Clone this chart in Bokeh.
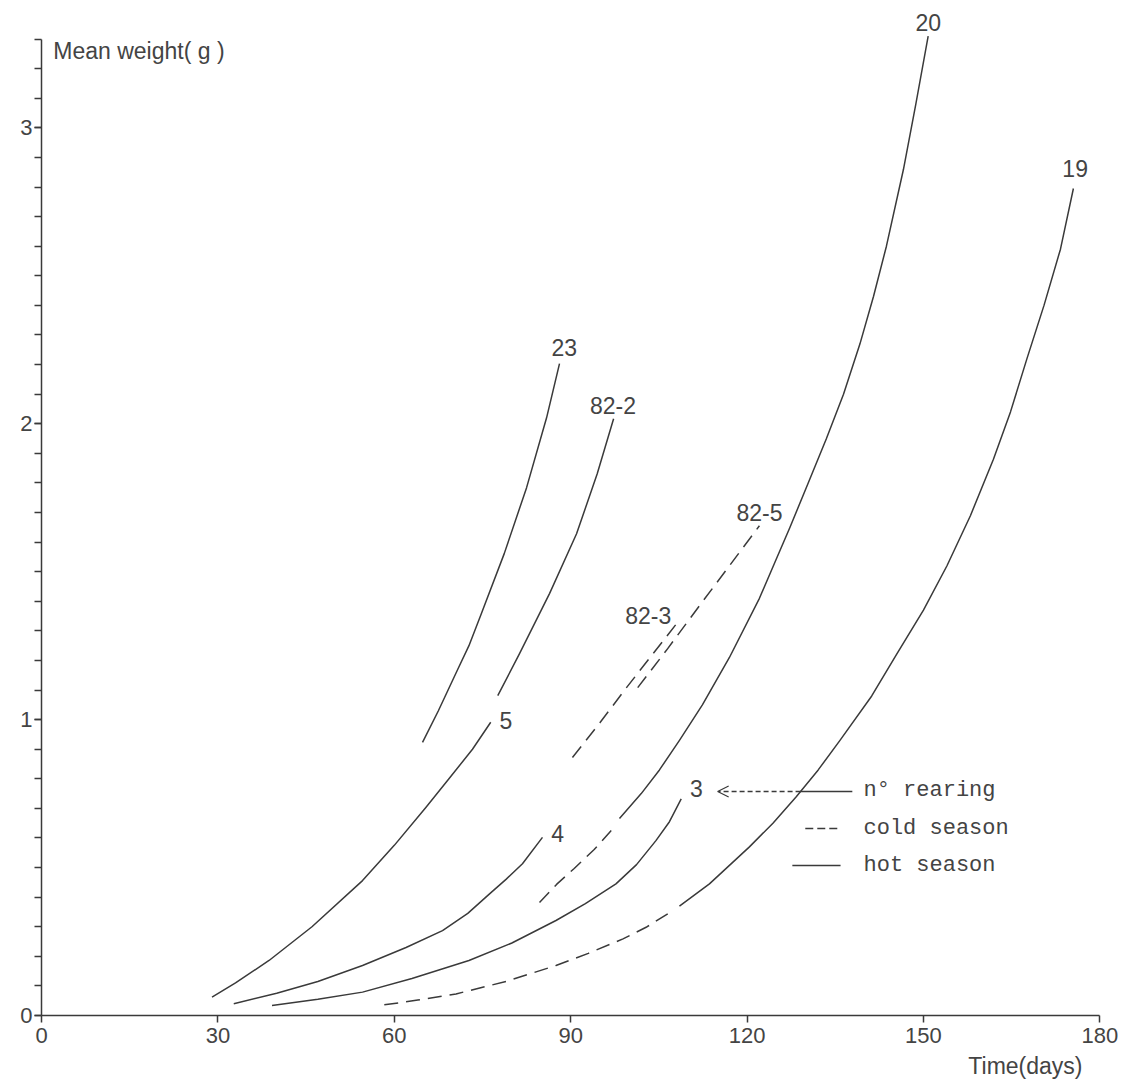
from bokeh.plotting import figure
from bokeh.models import Range1d, FixedTicker, Label, Arrow, OpenHead, Title
from bokeh.embed import file_html
from bokeh.resources import INLINE

# ---- data (days, mean weight g) ----
r23_days = [64.8, 67.5, 70.7, 72.7, 74.8, 78.7, 82.5, 85.9, 88.1]
r23_w = [0.923, 1.03, 1.166, 1.25, 1.358, 1.561, 1.784, 2.02, 2.203]

r822_days = [77.6, 81.3, 86.4, 91.0, 94.5, 97.3]
r822_w = [1.081, 1.223, 1.426, 1.628, 1.83, 2.017]

r5_days = [29.0, 33.0, 38.7, 46.0, 54.6, 60.0, 65.4, 69.5, 73.3, 76.4]
r5_w = [0.062, 0.11, 0.186, 0.30, 0.456, 0.575, 0.704, 0.805, 0.90, 0.991]

r4_days = [32.7, 40.0, 47.0, 54.6, 62.0, 68.2, 72.5, 76.2, 79.0, 81.8, 85.2]
r4_w = [0.040, 0.075, 0.115, 0.169, 0.23, 0.287, 0.345, 0.411, 0.46, 0.513, 0.602]

r3_days = [39.2, 47.0, 54.6, 63.0, 72.7, 80.0, 87.5, 92.5, 97.7, 101.2, 104.5, 106.8, 108.8]
r3_w = [0.034, 0.055, 0.079, 0.125, 0.186, 0.245, 0.321, 0.378, 0.445, 0.51, 0.591, 0.655, 0.732]

r823_days = [90.3, 95.0, 99.1, 103.5, 108.0]
r823_w = [0.872, 0.99, 1.098, 1.21, 1.324]

r825_days = [101.4, 106.5, 111.9, 117.0, 122.1]
r825_w = [1.108, 1.24, 1.385, 1.52, 1.655]

r20_cold_days = [84.7, 87.6, 90.6, 94.0, 96.9]
r20_cold_w = [0.382, 0.443, 0.497, 0.561, 0.625]
r20_hot_days = [98.3, 102.0, 105.1, 108.5, 112.4, 117.0, 122.1, 124.7, 127.3, 130.4, 133.5,
                136.4, 139.2, 141.5, 143.7, 146.6, 148.7, 150.8]
r20_hot_w = [0.666, 0.75, 0.83, 0.93, 1.05, 1.21, 1.41, 1.53, 1.65, 1.80, 1.95,
             2.10, 2.27, 2.43, 2.60, 2.86, 3.08, 3.31]

r19_cold_days = [58.3, 64.0, 70.5, 79.0, 87.5, 93.0, 98.9, 103.0, 107.4]
r19_cold_w = [0.036, 0.052, 0.073, 0.115, 0.169, 0.21, 0.259, 0.30, 0.355]
r19_hot_days = [108.5, 113.6, 120.4, 124.4, 128.4, 132.1, 135.8, 141.2, 145.4, 150.0, 154.0,
                158.0, 161.9, 164.8, 167.6, 170.5, 173.3, 175.5]
r19_hot_w = [0.37, 0.445, 0.57, 0.65, 0.74, 0.83, 0.93, 1.08, 1.22, 1.37, 1.52,
             1.69, 1.88, 2.04, 2.22, 2.40, 2.59, 2.795]

curve_labels = ["23", "82-2", "5", "4", "3", "82-3", "82-5", "20", "19"]
label_days = [88.9, 97.2, 79.0, 87.8, 111.4, 103.2, 122.1, 150.8, 175.8]
label_w = [2.258, 2.061, 0.997, 0.616, 0.766, 1.351, 1.699, 3.356, 2.861]

x_ticks = [0, 30, 60, 90, 120, 150, 180]
y_ticks = [0, 1, 2, 3]
y_minor = [i / 10 for i in range(0, 34)]

legend_texts = ["n° rearing", "cold season", "hot season"]

# ---- figure ----
INK = "#3a3a3a"
TXT = "#444444"
SANS = "Liberation Sans"
MONO = "Liberation Mono"

p = figure(width=1130, height=1085, x_range=Range1d(0, 183), y_range=Range1d(0, 3.40),
           output_backend="svg", toolbar_location=None,
           min_border_left=41, min_border_right=13, min_border_top=9, min_border_bottom=70)
p.xgrid.grid_line_color = None
p.ygrid.grid_line_color = None
p.outline_line_color = None
p.background_fill_color = "white"

# axes
p.xaxis.ticker = FixedTicker(ticks=x_ticks)
p.xaxis.bounds = (0, 180)
p.xaxis.axis_line_color = INK
p.xaxis.axis_line_width = 1.5
p.xaxis.major_tick_line_color = INK
p.xaxis.major_tick_line_width = 1.5
p.xaxis.major_tick_out = 7
p.xaxis.major_tick_in = 0
p.xaxis.minor_tick_line_color = None
p.xaxis.major_label_text_font = SANS
p.xaxis.major_label_text_font_size = "22px"
p.xaxis.major_label_text_color = TXT
p.xaxis.major_label_standoff = 5

p.yaxis.ticker = FixedTicker(ticks=y_ticks, minor_ticks=y_minor)
p.yaxis.bounds = (0, 3.3)
p.yaxis.axis_line_color = INK
p.yaxis.axis_line_width = 1.5
p.yaxis.major_tick_line_color = INK
p.yaxis.major_tick_line_width = 1.5
p.yaxis.major_tick_out = 7
p.yaxis.major_tick_in = 0
p.yaxis.minor_tick_line_color = INK
p.yaxis.minor_tick_line_width = 1.5
p.yaxis.minor_tick_out = 7
p.yaxis.minor_tick_in = 0
p.yaxis.major_label_text_font = SANS
p.yaxis.major_label_text_font_size = "22px"
p.yaxis.major_label_text_color = TXT
p.yaxis.major_label_standoff = 2

DASH = "14 8"
LW = 1.5

# hot season (solid)
for xs, ys in [(r23_days, r23_w), (r822_days, r822_w), (r5_days, r5_w), (r4_days, r4_w),
               (r3_days, r3_w), (r20_hot_days, r20_hot_w), (r19_hot_days, r19_hot_w)]:
    p.line(xs, ys, line_color=INK, line_width=LW, line_join="round")

# cold season (dashed)
for xs, ys in [(r823_days, r823_w), (r825_days, r825_w), (r20_cold_days, r20_cold_w),
               (r19_cold_days, r19_cold_w)]:
    p.line(xs, ys, line_color=INK, line_width=LW, line_dash=DASH, line_join="round")

# curve labels
for t, x, y in zip(curve_labels, label_days, label_w):
    p.add_layout(Label(x=x, y=y, text=t, text_align="center", text_baseline="middle",
                       text_font=SANS, text_font_size="23px", text_color=TXT))

# axis titles
p.add_layout(Label(x=2.0, y=3.261, text="Mean weight( g )", text_align="left", text_baseline="middle",
                   text_font=SANS, text_font_size="23px", text_color=TXT))
p.add_layout(Title(text="Time(days)", align="right", offset=35, text_font=SANS,
                   text_font_size="23px", text_font_style="normal", text_color=TXT), "below")

# legend (drawn by hand like the original)
p.add_layout(Arrow(end=OpenHead(size=11, line_color=INK, line_width=1.3),
                   x_start=129.1, y_start=0.757, x_end=115.0, y_end=0.757,
                   line_color=INK, line_width=1.3, line_dash="5 3"))
p.line([129.1, 137.9], [0.757, 0.757], line_color=INK, line_width=1.3)
p.line([129.9, 135.9], [0.632, 0.632], line_color=INK, line_width=1.3, line_dash="8 4")
p.line([127.7, 135.9], [0.507, 0.507], line_color=INK, line_width=1.3)
for t, y in zip(legend_texts, [0.760, 0.632, 0.507]):
    p.add_layout(Label(x=139.8, y=y, text=t, text_align="left", text_baseline="middle",
                       text_font=MONO, text_font_size="22px", text_color=TXT))

open("out.html", "w").write(file_html(p, INLINE))
